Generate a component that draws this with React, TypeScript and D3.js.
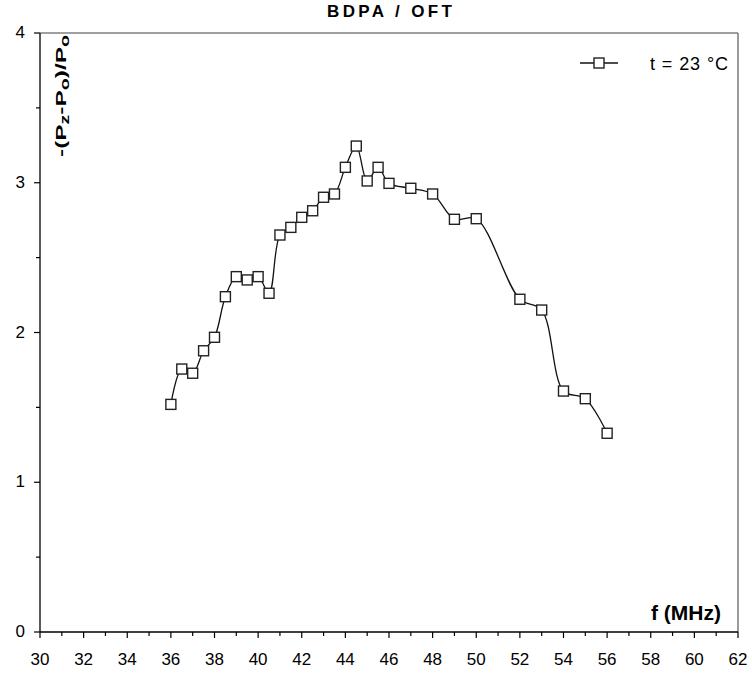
import React from "react";
import * as d3 from "d3";

const freq = [36, 36.5, 37, 37.5, 38, 38.5, 39, 39.5, 40, 40.5, 41, 41.5, 42, 42.5, 43, 43.5, 44, 44.5, 45, 45.5, 46, 47, 48, 49, 50, 52, 53, 54, 55, 56];
const values = [1.52, 1.756, 1.728, 1.878, 1.968, 2.239, 2.373, 2.351, 2.373, 2.262, 2.651, 2.702, 2.769, 2.813, 2.903, 2.925, 3.103, 3.245, 3.012, 3.103, 2.996, 2.963, 2.925, 2.756, 2.76, 2.222, 2.15, 1.609, 1.558, 1.327];
const xMajorTicks = [30, 32, 34, 36, 38, 40, 42, 44, 46, 48, 50, 52, 54, 56, 58, 60, 62];
const yMajorTicks = [0, 1, 2, 3, 4];
const title = "BDPA / OFT";
const legendLabel = "t = 23 °C";

const W = 752;
const H = 678;
const left = 40, right = 738, top = 33, bottom = 632;

export default function App() {
  const x = d3.scaleLinear().domain([30, 62]).range([left, right]);
  const y = d3.scaleLinear().domain([0, 4]).range([bottom, top]);
  const data = freq.map((f, i) => ({ f, v: values[i] }));
  const line = d3
    .line<{ f: number; v: number }>()
    .x((d) => x(d.f))
    .y((d) => y(d.v))
    .curve(d3.curveCatmullRom.alpha(0.5));
  const xMinor = d3.range(31, 62, 2);
  const yMinor = d3.range(0.5, 4, 1);
  const sq = 10;
  const font = "Liberation Sans, Arial, sans-serif";

  return (
    <svg width={W} height={H} style={{ position: "absolute", left: 0, top: 0, background: "#fff" }} fontFamily={font}>
      <rect x={0} y={0} width={W} height={H} fill="#fff" />
      {/* title */}
      <text x={327} y={17} fontSize={17} fontWeight="bold" textLength={125} lengthAdjust="spacing" fill="#000">
        {title}
      </text>
      {/* frame top/right */}
      <line x1={left} x2={right} y1={top} y2={top} stroke="#808080" strokeWidth={1.3} />
      <line x1={right} x2={right} y1={top} y2={bottom} stroke="#666" strokeWidth={1.3} />
      {/* axes */}
      <line x1={left} x2={left} y1={top} y2={bottom} stroke="#000" strokeWidth={1.3} />
      <line x1={left} x2={right} y1={bottom} y2={bottom} stroke="#000" strokeWidth={1.3} />
      {xMajorTicks.map((t) => (
        <g key={"xt" + t}>
          <line x1={x(t)} x2={x(t)} y1={bottom} y2={bottom + 6} stroke="#000" strokeWidth={1.2} />
          <text x={x(t)} y={665} textAnchor="middle" fontSize={17} fill="#000">
            {t}
          </text>
        </g>
      ))}
      {xMinor.map((t) => (
        <line key={"xm" + t} x1={x(t)} x2={x(t)} y1={bottom} y2={bottom + 4} stroke="#000" strokeWidth={1.2} />
      ))}
      {yMajorTicks.map((t) => (
        <g key={"yt" + t}>
          <line x1={left - 6} x2={left} y1={y(t)} y2={y(t)} stroke="#000" strokeWidth={1.2} />
          <text x={25} y={y(t) + 5} textAnchor="end" fontSize={17} fill="#000">
            {t}
          </text>
        </g>
      ))}
      {yMinor.map((t) => (
        <line key={"ym" + t} x1={left - 4} x2={left} y1={y(t)} y2={y(t)} stroke="#000" strokeWidth={1.2} />
      ))}
      {/* axis titles */}
      <text x={721} y={620} textAnchor="end" fontSize={21} fontWeight="bold" fill="#000">
        f (MHz)
      </text>
      <text
        transform={`translate(66,157) rotate(-90)`}
        fontSize={15}
        fontWeight="bold"
        fill="#000"
        textLength={122}
        lengthAdjust="spacingAndGlyphs"
      >
        -(P<tspan fontSize={12} dy={3}>z</tspan>
        <tspan dy={-3}>-P</tspan>
        <tspan fontSize={12} dy={3}>o</tspan>
        <tspan dy={-3}>)/P</tspan>
        <tspan fontSize={12} dy={3}>o</tspan>
      </text>
      {/* data line */}
      <path d={line(data) || ""} fill="none" stroke="#111" strokeWidth={1.3} />
      {data.map((d, i) => (
        <rect key={"p" + i} x={x(d.f) - sq / 2} y={y(d.v) - sq / 2} width={sq} height={sq} fill="#fff" stroke="#222" strokeWidth={1.4} />
      ))}
      {/* legend */}
      <line x1={580} x2={618} y1={63} y2={63} stroke="#111" strokeWidth={1.3} />
      <rect x={599 - sq / 2} y={63 - sq / 2} width={sq} height={sq} fill="#fff" stroke="#222" strokeWidth={1.4} />
      <text x={650} y={70} fontSize={18} fill="#000" textLength={78} lengthAdjust="spacing">
        {legendLabel}
      </text>
    </svg>
  );
}
